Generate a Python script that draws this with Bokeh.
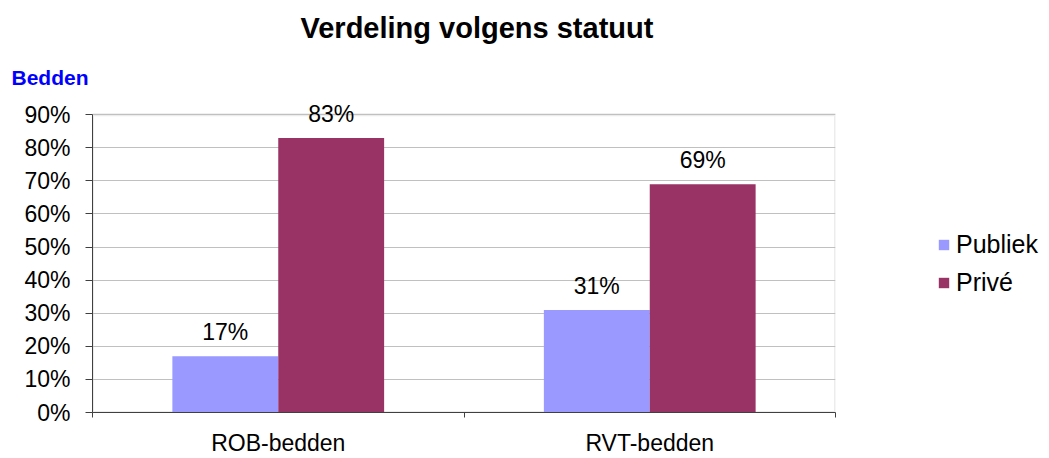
from bokeh.plotting import figure
from bokeh.layouts import row
from bokeh.models import (Range1d, FixedTicker, NumeralTickFormatter, ColumnDataSource,
                          LabelSet, Legend, LegendItem, Title, BoxAnnotation)
from bokeh.core.properties import value
from bokeh.transform import dodge
from bokeh.embed import file_html
from bokeh.resources import INLINE

# ---- data ----
categories = ["ROB-bedden", "RVT-bedden"]
publiek = [0.17, 0.31]
prive = [0.83, 0.69]
series_names = ["Publiek", "Privé"]
y_ticks = [0.0, 0.1, 0.2, 0.3, 0.4, 0.5, 0.6, 0.7, 0.8, 0.9]
y_max = 0.9

title_text = "Verdeling volgens statuut"
unit_text = "Bedden"

FONT = "Liberation Sans"
C_PUB = "#9999FF"
C_PRI = "#993366"
GRID = "#c0c0c0"
AXC = "#404040"

W1, W2, H = 840, 209, 458

idx = list(range(len(categories)))
x_lo, x_hi = -0.5, len(categories) - 0.5
src = ColumnDataSource(dict(
    x=idx,
    publiek=publiek,
    prive=prive,
    publiek_lbl=[f"{round(v * 100)}%" for v in publiek],
    prive_lbl=[f"{round(v * 100)}%" for v in prive],
))

p = figure(width=W1, height=H, output_backend="svg", toolbar_location=None,
           x_range=Range1d(x_lo, x_hi), y_range=Range1d(0, 0.943),
           min_border_left=92, min_border_right=5, min_border_top=99,
           min_border_bottom=41)
p.title.visible = False
p.background_fill_color = "white"
p.border_fill_color = "white"
p.outline_line_color = None

p.xgrid.grid_line_color = None
p.ygrid.ticker = FixedTicker(ticks=y_ticks)
p.ygrid.grid_line_color = GRID
p.ygrid.grid_line_width = 1

# plot-area border (top and right in grey)
p.add_layout(BoxAnnotation(left=x_lo, right=x_hi, bottom=0, top=y_max,
                           fill_alpha=0, line_color=GRID, line_width=3, level="underlay"))

BW = 0.285
p.vbar(x=dodge("x", -BW / 2, range=p.x_range), top="publiek", width=BW,
       source=src, fill_color=C_PUB, line_color=None)
p.vbar(x=dodge("x", BW / 2, range=p.x_range), top="prive", width=BW,
       source=src, fill_color=C_PRI, line_color=None)

for col, off in (("publiek", -BW / 2), ("prive", BW / 2)):
    p.add_layout(LabelSet(x=dodge("x", off, range=p.x_range), y=col, text=col + "_lbl",
                          source=src, text_align="center", text_baseline="alphabetic",
                          y_offset=16, text_font=value(FONT), text_font_size=value("23px"),
                          text_color=value("black")))

# axes
yax = p.yaxis[0]
yax.ticker = FixedTicker(ticks=y_ticks)
yax.bounds = (0, y_max)
yax.formatter = NumeralTickFormatter(format="0%")
yax.major_tick_out = 7
yax.major_tick_in = 0
yax.minor_tick_line_color = None
yax.axis_line_color = AXC
yax.major_tick_line_color = AXC
yax.major_label_text_font = FONT
yax.major_label_text_font_size = "23px"
yax.major_label_text_color = "black"
yax.major_label_standoff = 15

xax = p.xaxis[0]
xax.ticker = FixedTicker(ticks=idx, minor_ticks=[i - 0.5 for i in range(len(categories) + 1)])
xax.major_label_overrides = {i: c for i, c in zip(idx, categories)}
xax.major_tick_out = 0
xax.major_tick_in = 0
xax.minor_tick_out = 5
xax.minor_tick_in = 0
xax.minor_tick_line_color = AXC
xax.axis_line_color = AXC
xax.major_label_text_font = FONT
xax.major_label_text_font_size = "23px"
xax.major_label_text_line_height = 1.0
xax.major_label_text_color = "black"
xax.major_label_standoff = 12

# unit label (nearest to plot) and title
p.add_layout(Title(text=unit_text, align="left", offset=-81, standoff=23,
                   text_font=FONT, text_font_size="21px", text_font_style="bold",
                   text_color="#0000FF"), "above")
p.add_layout(Title(text=title_text, align="left", offset=208, standoff=18,
                   text_font=FONT, text_font_size="29px", text_font_style="bold",
                   text_color="black"), "above")

# legend panel (second figure to the right); its bars have zero width, so only
# the legend swatches are visible
q = figure(width=W2, height=H, output_backend="svg", toolbar_location=None,
           x_axis_type=None, y_axis_type=None, min_border=0,
           x_range=Range1d(-0.5, 1.5), y_range=Range1d(0, 1))
q.title.visible = False
q.outline_line_color = None
q.background_fill_color = "white"
q.border_fill_color = "white"
q.xgrid.visible = False
q.ygrid.visible = False
lr_pub = q.vbar(x="x", top="publiek", width=0, source=src, fill_color=C_PUB, line_color=None)
lr_pri = q.vbar(x="x", top="prive", width=0, source=src, fill_color=C_PRI, line_color=None)
legend = Legend(items=[LegendItem(label=series_names[0], renderers=[lr_pub]),
                       LegendItem(label=series_names[1], renderers=[lr_pri])],
                location=(97, 111), padding=0, margin=0, spacing=0,
                glyph_width=13, glyph_height=13, label_height=38, label_standoff=6,
                label_text_font=FONT, label_text_font_size="25px", label_text_color="black",
                border_line_color=None, background_fill_alpha=0)
q.add_layout(legend)

layout = row(p, q, spacing=0)
open("out.html", "w").write(file_html(layout, INLINE))
